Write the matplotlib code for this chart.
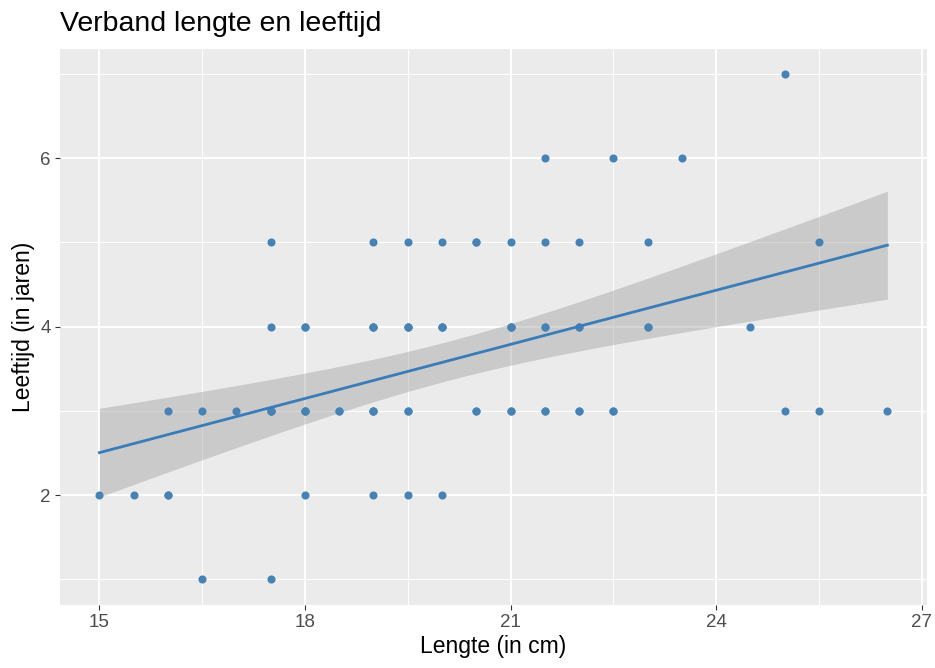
import numpy as np
import matplotlib
matplotlib.use("Agg")
import matplotlib.pyplot as plt

# Lengte (cm) en leeftijd (jaren)
# (punten die op elkaar vallen staan er meerdere keren in)
lengte = [15, 15.5, 16, 16, 16, 16.5, 16.5, 17, 17.5, 17.5, 17.5, 17.5, 17.5, 17.5,
          18, 18, 18, 18, 18, 18, 18.5, 18.5, 19, 19, 19, 19, 19, 19, 19, 19,
          19.5, 19.5, 19.5, 19.5, 19.5, 19.5, 19.5,
          20, 20, 20, 20, 20, 20.5, 20.5, 20.5, 20.5, 21, 21, 21, 21, 21, 21,
          21.5, 21.5, 21.5, 21.5, 21.5, 21.5, 22, 22, 22, 22, 22, 22.5, 22.5, 22.5,
          23, 23, 23, 23.5, 24.5, 25, 25, 25.5, 25.5, 26.5]
leeftijd = [2, 2, 2, 2, 3, 1, 3, 3, 1, 3, 3, 3, 4, 5,
            2, 3, 3, 3, 4, 4, 3, 3, 2, 3, 3, 3, 4, 4, 4, 5,
            2, 3, 3, 4, 4, 4, 5,
            2, 4, 4, 4, 5, 3, 3, 5, 5, 3, 3, 4, 4, 4, 5,
            3, 3, 4, 4, 5, 6, 3, 3, 4, 4, 5, 3, 3, 6,
            4, 4, 5, 6, 4, 3, 7, 3, 5, 3]

x_ticks = [15, 18, 21, 24, 27]
y_ticks = [2, 4, 6]

plt.rcParams['font.family'] = ['Liberation Sans', 'DejaVu Sans']

x = np.array(lengte, dtype=float)
y = np.array(leeftijd, dtype=float)

# lineaire regressie met 95% betrouwbaarheidsband (zoals geom_smooth(method="lm"))
n = len(x)
b1, b0 = np.polyfit(x, y, 1)
res = y - (b0 + b1 * x)
s = np.sqrt(np.sum(res ** 2) / (n - 2))
xs = np.linspace(x.min(), x.max(), 80)
ys = b0 + b1 * xs
sxx = np.sum((x - x.mean()) ** 2)
se = s * np.sqrt(1 / n + (xs - x.mean()) ** 2 / sxx)
tq = 1.99  # t(0.975, df ~ 75)

fig = plt.figure(figsize=(9.35, 6.68), dpi=100)
ax = fig.add_axes([0.0642, 0.095, 0.927, 0.832])
ax.set_facecolor('#EBEBEB')

ax.set_xlim(14.425, 27.075)
ax.set_ylim(0.7, 7.3)
ax.set_xticks(x_ticks)
ax.set_yticks(y_ticks)
ax.set_xticks([16.5, 19.5, 22.5, 25.5], minor=True)
ax.set_yticks([1, 3, 5, 7], minor=True)
ax.grid(True, which='major', color='white', linewidth=1.4)
ax.grid(True, which='minor', color='white', linewidth=0.7)
ax.set_axisbelow(True)
for sp in ax.spines.values():
    sp.set_visible(False)
ax.tick_params(which='major', length=3.5, color='#333333', labelsize=13.5,
               labelcolor='#4D4D4D', pad=3)
ax.tick_params(which='minor', length=0)

ax.scatter(x, y, s=34, color='#4682B4', zorder=3, linewidths=0)
ax.fill_between(xs, ys - tq * se, ys + tq * se, color='#999999', alpha=0.4,
                linewidth=0, zorder=2)
ax.plot(xs, ys, color='#3A7CB8', linewidth=2, zorder=4)

ax.set_xlabel('Lengte (in cm)', fontsize=16.5, labelpad=3)
ax.set_ylabel('Leeftijd (in jaren)', fontsize=16.5, labelpad=4)
ax.set_title('Verband lengte en leeftijd', fontsize=20.5, loc='left', pad=13)

fig.savefig('out.png', dpi=100)
